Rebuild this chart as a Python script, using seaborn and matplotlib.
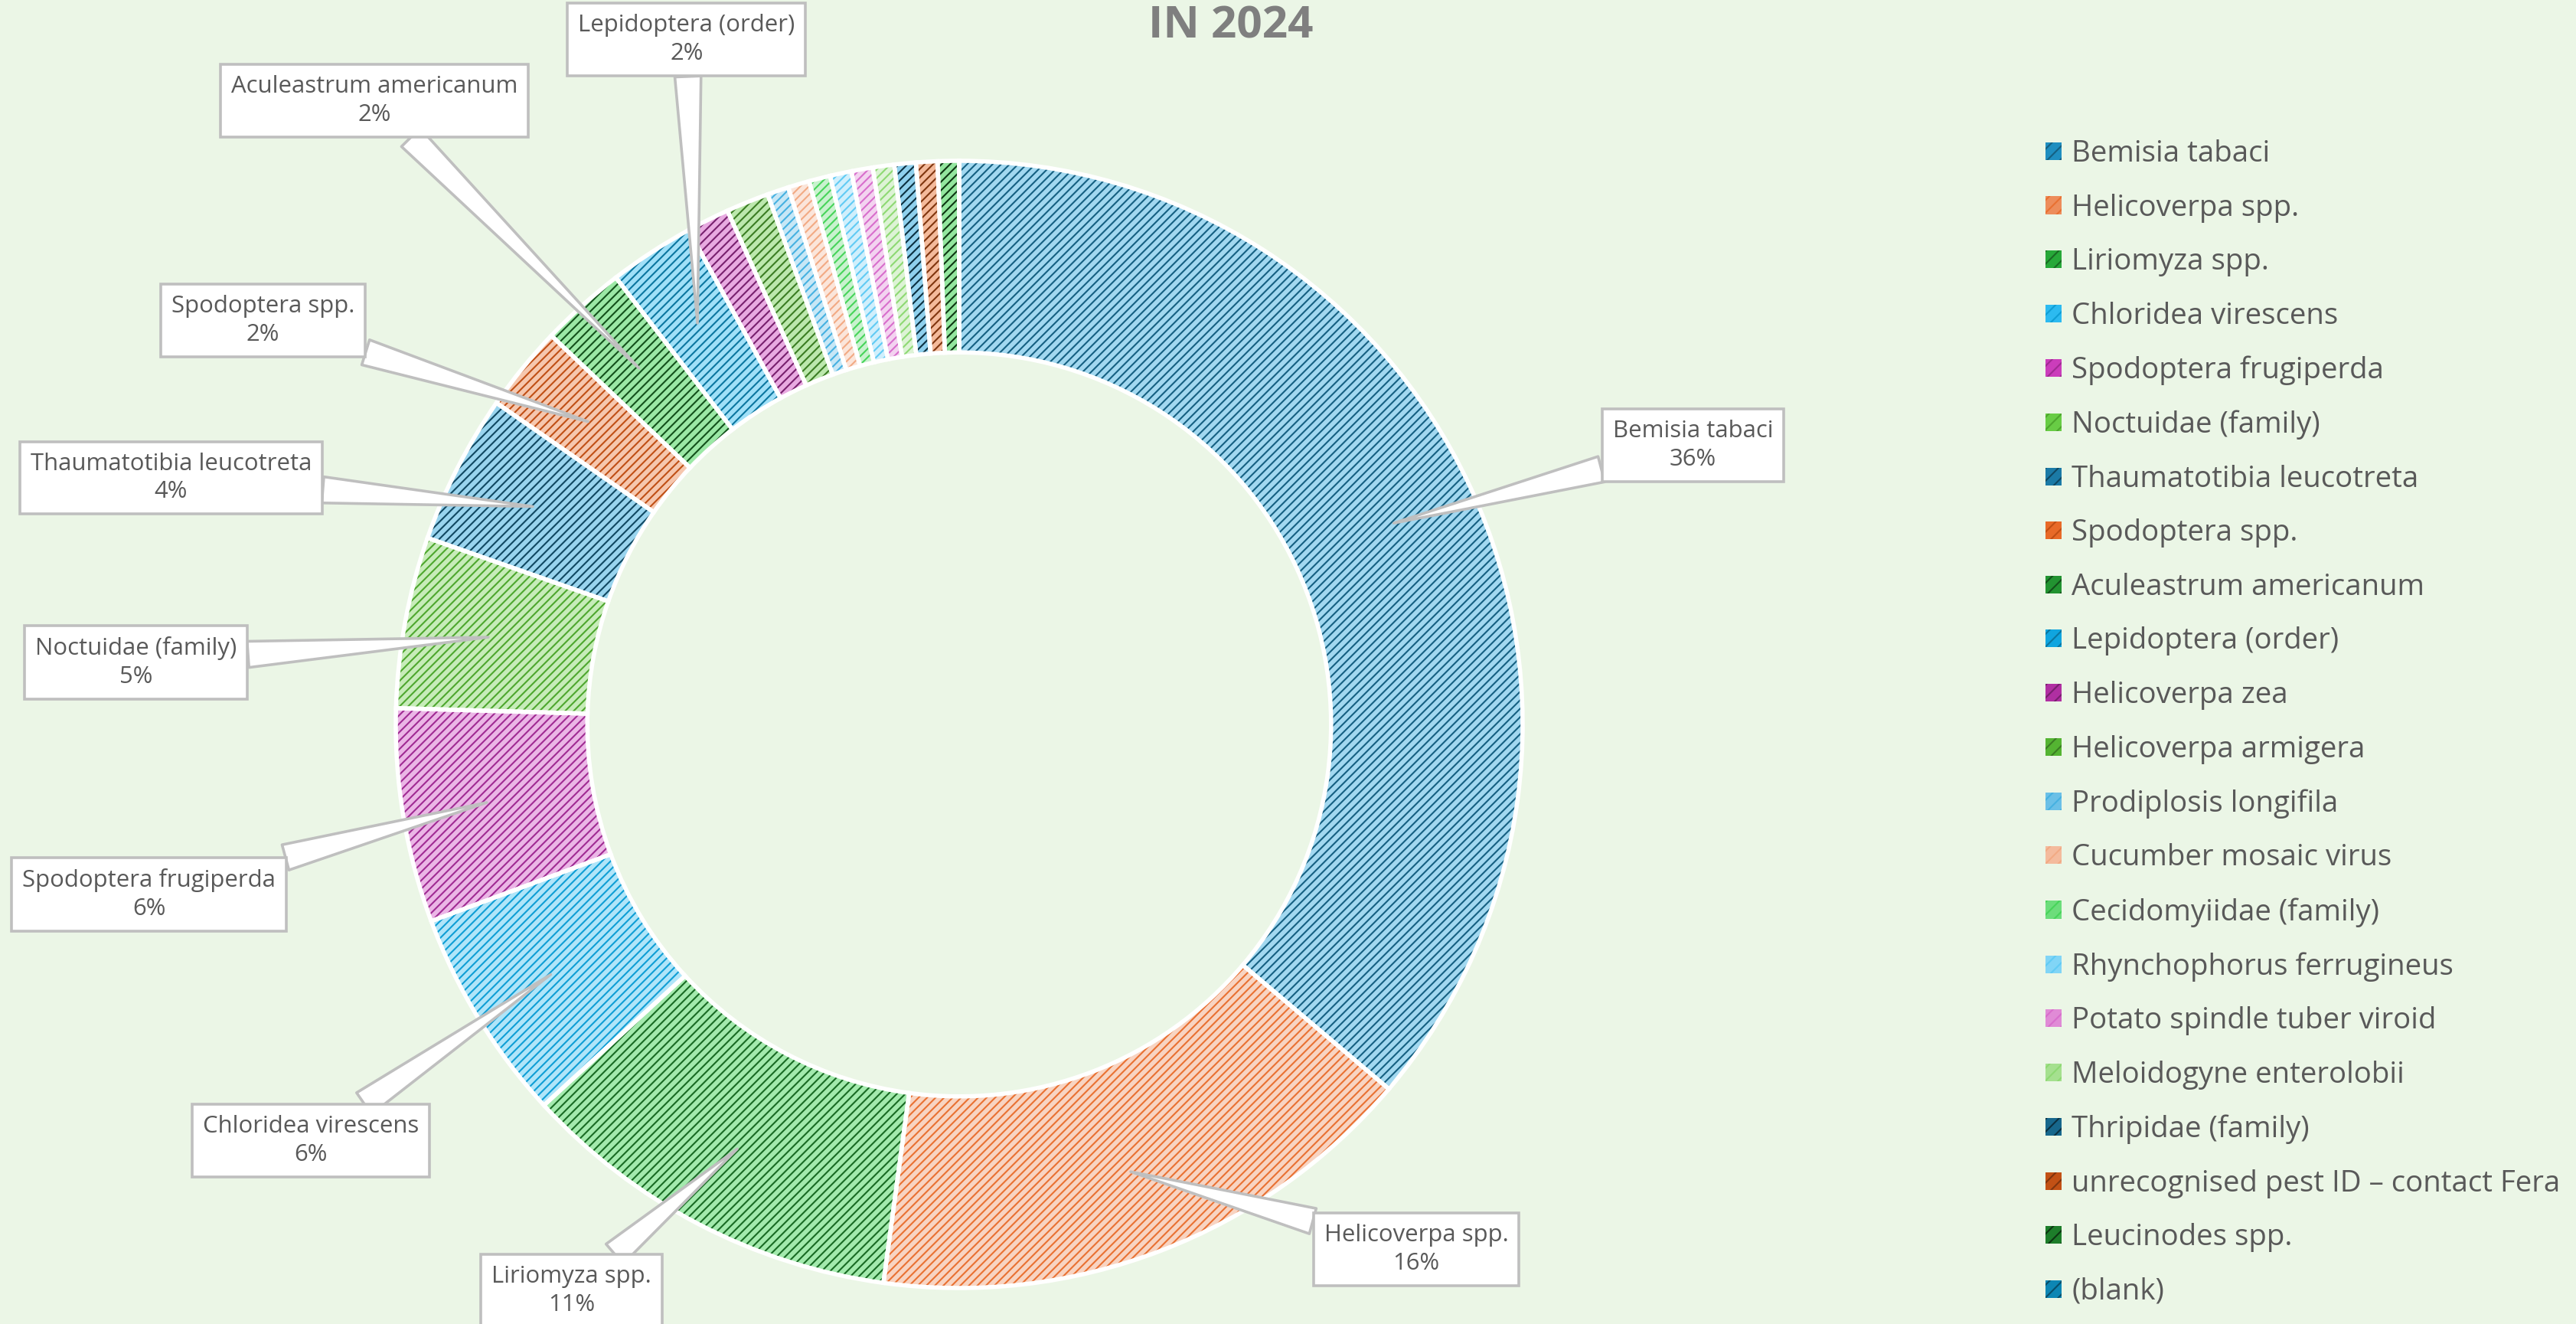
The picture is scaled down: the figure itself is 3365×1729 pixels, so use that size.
import colorsys
import numpy as np
import matplotlib
matplotlib.use("Agg")
import matplotlib.pyplot as plt
from matplotlib.patches import Patch
from matplotlib.colors import to_rgb
import seaborn as sns

# ---------------- data ----------------
categories = [
    "Bemisia tabaci", "Helicoverpa spp.", "Liriomyza spp.", "Chloridea virescens",
    "Spodoptera frugiperda", "Noctuidae (family)", "Thaumatotibia leucotreta",
    "Spodoptera spp.", "Aculeastrum americanum", "Lepidoptera (order)",
    "Helicoverpa zea", "Helicoverpa armigera", "Prodiplosis longifila",
    "Cucumber mosaic virus", "Cecidomyiidae (family)", "Rhynchophorus ferrugineus",
    "Potato spindle tuber viroid", "Meloidogyne enterolobii", "Thripidae (family)",
    "unrecognised pest ID \u2013 contact Fera", "Leucinodes spp.", "(blank)",
]
counts = [59, 26, 18, 10, 10, 8, 7, 4, 4, 4, 2, 2, 1, 1, 1, 1, 1, 1, 1, 1, 1, 0]
title_text = "IN 2024"

# label box centres (data units, pie radius = 1) for the labelled slices
label_positions = [
    (1.302, 0.495), (0.811, -0.931), (-0.688, -1.005), (-1.151, -0.738),
    (-1.438, -0.302), (-1.461, 0.110), (-1.399, 0.4375), (-1.236, 0.717),
    (-1.038, 1.107), (-0.484, 1.215),
]

# ---------------- style ----------------
BG = "#EBF6E6"
TXT = "#595959"
sns.set_theme(style="white")
plt.rcParams["font.family"] = ["Open Sans", "DejaVu Sans"]
plt.rcParams["hatch.linewidth"] = 0.75

accents = ["#156082", "#E97132", "#196B24", "#0F9ED5", "#A02B93", "#4EA72E"]


def lum(c, mod, off=0.0):
    r, g, b = to_rgb(c)
    h, l, s = colorsys.rgb_to_hls(r, g, b)
    l = min(1.0, l * mod + off)
    return colorsys.hls_to_rgb(h, l, s)


point_colors = []
for i in range(len(categories)):
    a = accents[i % 6]
    tier = i // 6
    if tier == 0:
        point_colors.append(to_rgb(a))
    elif tier == 1:
        point_colors.append(lum(a, 0.75))
    elif tier == 2:
        point_colors.append(lum(a, 0.6, 0.4))
    else:
        point_colors.append(lum(a, 0.5))
face_colors = [lum(c, 0.3, 0.7) for c in point_colors]
legend_faces = [lum(c, 0.8, 0.2) for c in point_colors]
point_colors = sns.color_palette(point_colors)

W, H, DPI = 3365, 1729, 200
fig = plt.figure(figsize=(W / DPI, H / DPI), dpi=DPI)
fig.patch.set_facecolor(BG)
ax = fig.add_axes([0, 0, 1, 1])
ax.set_facecolor(BG)

cx_px, cy_px, R_px = 1253, 946, 736
RING = 0.34

wedges, _ = ax.pie(counts, startangle=90, counterclock=False, radius=1.0,
                   colors=face_colors, wedgeprops=dict(width=RING, linewidth=0))
for w, c in zip(wedges, point_colors):
    w.set_edgecolor(c)
    w.set_hatch("//////")
    w.set_linewidth(0)
ax.pie(counts, startangle=90, counterclock=False, radius=1.0,
       colors=["none"] * len(counts),
       wedgeprops=dict(width=RING, linewidth=2.0, edgecolor="white"))

ax.set_xlim(-cx_px / R_px, (W - cx_px) / R_px)
ax.set_ylim(-(H - cy_px) / R_px, cy_px / R_px)
ax.set_aspect("auto")
ax.axis("off")

# ---------------- callout labels ----------------
total = float(sum(counts))
cum = np.cumsum([0] + counts)
k = 0
for i, name in enumerate(categories):
    pct = counts[i] / total * 100
    if round(pct) < 2:
        continue
    mid = np.deg2rad((cum[i] + counts[i] / 2) / total * 360)
    r_tip = 0.85
    tip = (r_tip * np.sin(mid), r_tip * np.cos(mid))
    ax.annotate(f"{name}\n{round(pct):.0f}%", xy=tip, xytext=label_positions[k],
                ha="center", va="center", fontsize=11.2, color=TXT,
                linespacing=1.3, annotation_clip=False, zorder=5,
                bbox=dict(boxstyle="square,pad=0.45", fc="white", ec="#BFBFBF", lw=1.3),
                arrowprops=dict(arrowstyle="wedge,tail_width=1.1,shrink_factor=0.5",
                                fc="white", ec="#BFBFBF", lw=1.3,
                                shrinkA=0, shrinkB=0))
    k += 1

# ---------------- title (top of the heading) ----------------
fig.text(1608 / W, 1 - 50 / H, title_text, ha="center", va="baseline",
         fontsize=21, fontweight="bold", color="#7F7F7F")

# ---------------- legend ----------------
handles = [Patch(facecolor=f, edgecolor=c, hatch="////", linewidth=0)
           for f, c in zip(legend_faces, point_colors)]
leg = fig.legend(handles, categories, loc="upper left",
                 bbox_to_anchor=(2672 / W, 1 - 182 / H), frameon=False,
                 fontsize=13.8, labelcolor=TXT, handlelength=0.55,
                 handleheight=0.55, handletextpad=0.35, labelspacing=0.85,
                 borderpad=0, borderaxespad=0)

fig.savefig("out.png", dpi=DPI, facecolor=BG)
